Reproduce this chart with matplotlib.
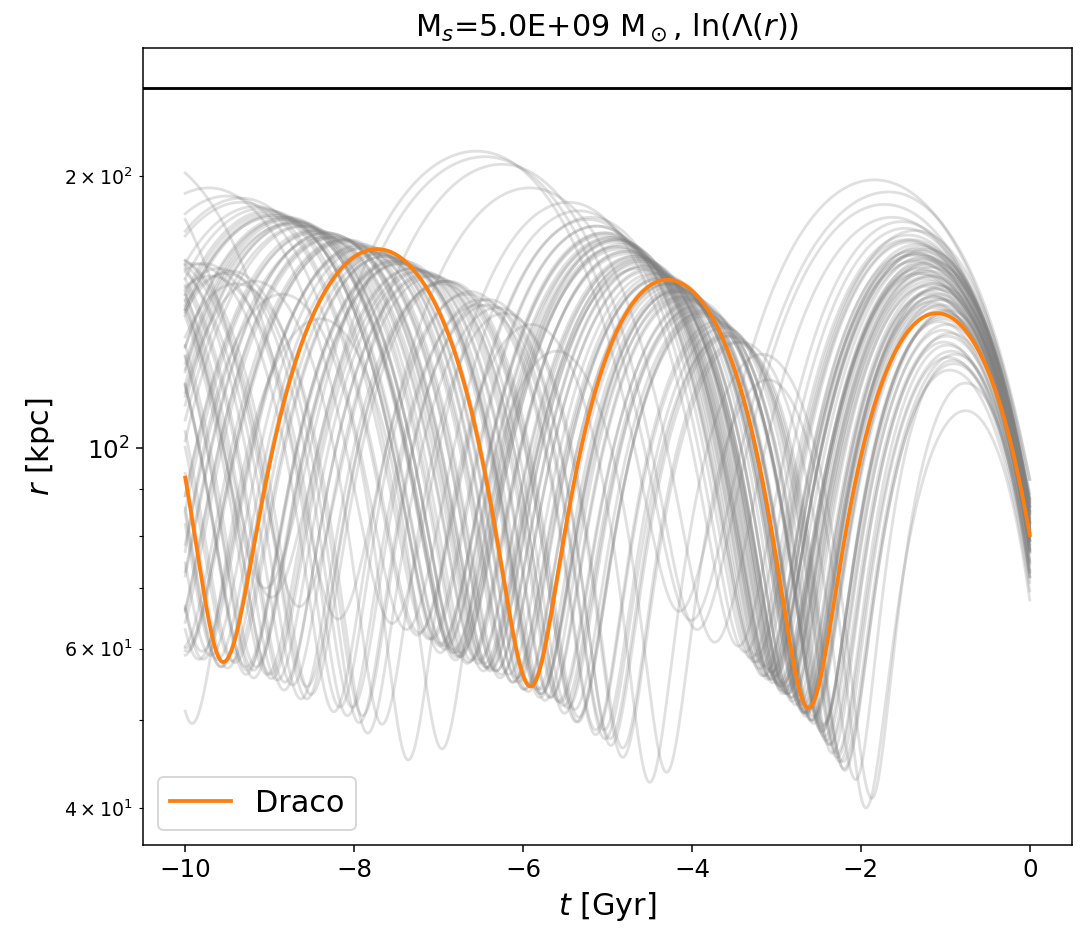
import numpy as np
import matplotlib
matplotlib.use("Agg")
import matplotlib.pyplot as plt

# ---------------- data ----------------
title_text = r'M$_s$=5.0E+09 M$_\odot$, ln($\Lambda(r)$)'
x_label = r'$t$ [Gyr]'
y_label = r'$r$ [kpc]'
legend_label = 'Draco'
r_line = 250.0          # horizontal reference radius [kpc]

# Draco orbit: turning points (time [Gyr], radius [kpc]); first/last lie just outside the plotted span
draco_t = [0.45, -1.10, -2.62, -4.29, -5.91, -7.73, -9.55, -11.30]
draco_r = [50.0, 141.0, 51.6, 153.5, 54.5, 166.0, 58.0, 179.0]

# Ensemble orbits: turning points (pericentre / apocentre)
gray_t = [
    [0.50, -1.84, -4.15, -6.55, -9.05, -11.65],
    [0.49, -1.67, -4.01, -6.45, -8.98, -11.61],
    [0.48, -1.72, -3.94, -6.25, -8.65, -11.15],
    [0.48, -1.63, -3.73, -5.92, -8.19, -10.55],
    [0.47, -1.52, -3.45, -5.46, -7.55, -9.72, -11.97],
    [0.47, -1.48, -3.37, -5.34, -7.38, -9.51, -11.72],
    [0.46, -1.44, -3.30, -5.23, -7.25, -9.34, -11.52],
    [0.46, -1.40, -3.23, -5.13, -7.11, -9.17, -11.31],
    [0.46, -1.36, -3.24, -5.20, -7.23, -9.34, -11.54],
    [0.46, -1.33, -3.14, -5.02, -6.98, -9.02, -11.13],
    [0.45, -1.30, -3.10, -4.97, -6.92, -8.94, -11.05],
    [0.45, -1.34, -3.09, -4.91, -6.80, -8.77, -10.82],
    [0.45, -1.27, -3.05, -4.90, -6.83, -8.83, -10.91],
    [0.45, -1.31, -3.05, -4.86, -6.74, -8.70, -10.74],
    [0.44, -1.25, -3.01, -4.84, -6.74, -8.72, -10.78],
    [0.44, -1.22, -2.92, -4.69, -6.53, -8.44, -10.43],
    [0.45, -1.36, -3.16, -5.03, -6.98, -9.00, -11.11],
    [0.44, -1.28, -2.94, -4.67, -6.46, -8.33, -10.27, -12.29],
    [0.44, -1.24, -2.97, -4.77, -6.64, -8.59, -10.61],
    [0.44, -1.30, -2.94, -4.65, -6.42, -8.27, -10.18, -12.18],
    [0.43, -1.19, -2.87, -4.62, -6.44, -8.33, -10.29, -12.34],
    [0.43, -1.26, -2.88, -4.56, -6.32, -8.14, -10.04, -12.01],
    [0.43, -1.21, -2.87, -4.60, -6.39, -8.26, -10.20, -12.22],
    [0.45, -1.38, -3.10, -4.89, -6.75, -8.68, -10.70],
    [0.44, -1.16, -2.88, -4.67, -6.53, -8.46, -10.48],
    [0.43, -1.20, -2.82, -4.50, -6.26, -8.08, -9.98, -11.95],
    [0.43, -1.14, -2.72, -4.36, -6.07, -7.85, -9.70, -11.62],
    [0.43, -1.22, -2.77, -4.38, -6.06, -7.80, -9.62, -11.50],
    [0.43, -1.12, -2.72, -4.38, -6.12, -7.92, -9.79, -11.73],
    [0.43, -1.18, -2.70, -4.28, -5.93, -7.64, -9.41, -11.26],
    [0.42, -1.08, -2.65, -4.28, -5.98, -7.75, -9.58, -11.50],
    [0.42, -1.15, -2.65, -4.21, -5.83, -7.52, -9.28, -11.10],
    [0.42, -1.10, -2.65, -4.26, -5.94, -7.68, -9.50, -11.38],
    [0.42, -1.17, -2.65, -4.19, -5.79, -7.46, -9.19, -10.99],
    [0.42, -1.05, -2.57, -4.15, -5.80, -7.51, -9.28, -11.13],
    [0.42, -1.12, -2.58, -4.10, -5.68, -7.32, -9.03, -10.81],
    [0.42, -1.06, -2.56, -4.12, -5.74, -7.43, -9.19, -11.01],
    [0.41, -1.00, -2.46, -3.98, -5.56, -7.20, -8.91, -10.69],
    [0.41, -1.04, -2.46, -3.94, -5.47, -7.07, -8.73, -10.46],
    [0.41, -0.98, -2.43, -3.94, -5.51, -7.14, -8.83, -10.60],
    [0.41, -1.03, -2.41, -3.85, -5.34, -6.89, -8.51, -10.18, -11.93],
    [0.41, -0.98, -2.38, -3.84, -5.35, -6.93, -8.56, -10.27, -12.04],
    [0.40, -1.02, -2.34, -3.71, -5.14, -6.63, -8.17, -9.78, -11.45],
    [0.40, -0.93, -2.28, -3.68, -5.14, -6.66, -8.24, -9.89, -11.59],
    [0.40, -0.97, -2.25, -3.58, -4.97, -6.41, -7.90, -9.46, -11.08],
    [0.40, -0.90, -2.20, -3.55, -4.96, -6.42, -7.94, -9.52, -11.17],
    [0.40, -0.95, -2.19, -3.48, -4.82, -6.22, -7.67, -9.18, -10.74],
    [0.39, -0.76, -1.94, -3.10, -4.30, -5.60, -6.96, -8.40, -9.92, -11.45],
    [0.40, -0.76, -1.87, -3.17, -4.50, -5.90, -7.36, -8.85, -10.40, -11.90],
    [0.41, -0.92, -2.06, -3.42, -4.82, -6.30, -7.84, -9.40, -11.00],
    [0.46, -1.42, -3.20, -5.05, -6.98, -8.98, -11.06],
    [0.45, -1.24, -3.06, -4.95, -6.92, -8.97, -11.10],
    [0.45, -1.36, -3.04, -4.79, -6.61, -8.50, -10.46],
    [0.45, -1.30, -3.06, -4.89, -6.79, -8.77, -10.83],
    [0.44, -1.20, -2.95, -4.77, -6.66, -8.63, -10.68],
    [0.44, -1.27, -2.91, -4.62, -6.39, -8.24, -10.15, -12.15],
    [0.43, -1.16, -2.86, -4.63, -6.47, -8.38, -10.37, -12.44],
    [0.43, -1.24, -2.82, -4.46, -6.17, -7.95, -9.80, -11.72],
    [0.43, -1.18, -2.81, -4.51, -6.27, -8.10, -10.01, -11.99],
    [0.43, -1.10, -2.64, -4.24, -5.91, -7.64, -9.44, -11.32],
    [0.42, -1.20, -2.67, -4.20, -5.79, -7.44, -9.16, -10.95],
    [0.42, -1.04, -2.56, -4.14, -5.79, -7.50, -9.27, -11.12],
    [0.42, -1.14, -2.59, -4.10, -5.67, -7.30, -8.99, -10.76],
    [0.41, -1.02, -2.46, -3.96, -5.52, -7.14, -8.82, -10.57],
    [0.41, -1.08, -2.46, -3.90, -5.39, -6.94, -8.56, -10.23, -11.98],
    [0.41, -0.94, -2.36, -3.84, -5.37, -6.97, -8.63, -10.36, -12.16],
    [0.40, -0.98, -2.28, -3.63, -5.04, -6.50, -8.02, -9.60, -11.25],
    [0.40, -0.88, -2.21, -3.59, -5.03, -6.53, -8.08, -9.70, -11.39],
    [0.46, -1.46, -3.26, -5.13, -7.08, -9.10, -11.21],
    [0.45, -1.40, -3.14, -4.95, -6.83, -8.79, -10.83],
    [0.44, -1.18, -2.98, -4.85, -6.80, -8.82, -10.93],
    [0.43, -1.32, -2.92, -4.58, -6.32, -8.12, -9.99, -11.93],
    [0.43, -1.06, -2.68, -4.36, -6.12, -7.94, -9.84, -11.81],
    [0.42, -1.12, -2.68, -4.30, -5.99, -7.75, -9.57, -11.47],
    [0.41, -0.96, -2.44, -3.98, -5.58, -7.25, -8.98, -10.78],
]
gray_r = [
    [63, 198, 66, 213, 70, 230],
    [61, 192, 64.5, 210, 68.4, 226],
    [60, 186, 63, 206, 66.8, 222],
    [58, 180, 61, 194, 64.7, 212],
    [57.4, 178, 60.4, 187, 64, 194, 67.9],
    [56.5, 175, 59.5, 183, 63, 190, 66.9],
    [55.7, 172, 58.6, 179, 62.1, 187, 65.9],
    [55, 170, 58, 176, 61.5, 185, 65.2],
    [56, 174, 59, 180, 62.5, 189, 66.3],
    [54.5, 168, 57.4, 173, 60.8, 183, 64.5],
    [54, 167, 57, 171, 60.4, 181, 64.1],
    [53, 166, 56, 169, 59.4, 179, 63],
    [53.7, 165, 56.5, 170, 59.9, 180, 63.5],
    [52.7, 164, 55.5, 167, 58.8, 177, 62.4],
    [53.2, 163, 56, 168, 59.4, 178, 62.9],
    [52.3, 162, 55, 163, 58.3, 174, 61.8],
    [53.2, 161, 56, 172, 59.4, 182, 62.9],
    [51.8, 160, 54.5, 163, 57.8, 173, 61.3, 192],
    [52, 159, 54.7, 165, 58, 176, 61.5],
    [51.3, 158, 54, 161, 57.2, 172, 60.7, 189],
    [51.3, 157, 54, 162, 57.2, 173, 60.7, 188],
    [50.8, 156, 53.5, 159, 56.7, 170, 60.1, 186],
    [50.8, 155, 53.5, 161, 56.7, 171, 60.1, 186],
    [52.7, 163.5, 55.5, 170, 58.8, 178, 62.4],
    [51.8, 158.5, 54.5, 162, 57.8, 173, 61.3],
    [50.4, 153, 53, 158, 56.2, 170, 59.6, 184],
    [49.9, 152, 52.5, 155, 55.7, 167, 59, 182],
    [49.4, 151, 52, 154, 55.1, 165, 58.4, 180],
    [49.4, 150, 52, 156, 55.1, 168, 58.4, 181],
    [48.9, 149, 51.5, 152, 54.6, 163, 57.9, 177],
    [48.5, 148, 51, 154, 54.1, 165, 57.3, 179],
    [48.5, 147, 51, 150, 54.1, 161, 57.3, 175],
    [48.3, 146, 50.8, 152, 53.8, 164, 57.1, 178],
    [48, 145, 50.5, 149, 53.5, 160, 56.8, 174],
    [47.5, 144, 50, 150, 53, 162, 56.2, 176],
    [47.5, 143, 50, 147, 53, 158, 56.2, 172],
    [47.1, 142, 49.6, 149, 52.6, 161, 55.7, 175],
    [46.8, 141, 49.3, 146, 52.3, 157, 55.4, 171],
    [46.3, 139, 48.7, 144, 51.6, 155, 54.7, 169],
    [45.6, 137, 48, 142, 50.9, 155, 54, 169],
    [45, 135, 47.5, 142, 50.4, 153, 53.4, 163, 56.6],
    [44.7, 133, 47, 141, 49.8, 153, 52.8, 163, 56],
    [43.7, 131, 46, 138, 48.8, 149, 51.7, 160, 54.8],
    [43.2, 128, 45.5, 137, 48.2, 148, 51.1, 160, 54.2],
    [42.8, 126, 45, 134, 47.7, 146, 50.6, 157, 53.6],
    [42, 124, 44.2, 133, 46.9, 144, 49.7, 156, 52.6],
    [41.8, 122, 44, 131, 46.6, 141, 49.5, 153, 52.4],
    [38, 110, 40, 119, 43.8, 128, 46.5, 139, 49.6, 150],
    [39, 118, 41, 127, 42.7, 137, 45.2, 148, 48, 160],
    [41, 125, 43, 131, 45.5, 143, 48.4, 152, 51],
    [54.2, 169, 57, 173, 60.4, 181, 64],
    [53.7, 166, 56.5, 170, 59.9, 180, 63.5],
    [52.3, 164, 55, 165, 58.3, 174, 61.8],
    [52.7, 162, 55.5, 167, 58.8, 177, 62.4],
    [51.8, 160, 54.5, 164, 57.8, 176, 61.3],
    [51.1, 157, 53.8, 160, 57, 171, 60.5, 185],
    [50.8, 155, 53.5, 158, 56.7, 171, 60.1, 187],
    [50.4, 154, 53, 156, 56.2, 167, 59.6, 181],
    [49.9, 152, 52.5, 157, 55.7, 169, 59, 183],
    [49.2, 150, 51.8, 151, 54.9, 163, 58.2, 177],
    [48.5, 148, 51, 149, 54.1, 160, 57.3, 174],
    [48, 146, 50.5, 147, 53.5, 161, 56.8, 175],
    [47.5, 144, 50, 146, 53, 158, 56.2, 172],
    [46.5, 140, 49, 143, 51.9, 156, 55.1, 170],
    [46, 138, 48.5, 141, 51.4, 153, 54.5, 164, 57.8],
    [44.7, 134, 47, 140, 49.8, 152, 52.8, 163, 56],
    [43.7, 130, 46, 136, 48.8, 146, 51.7, 158, 54.8],
    [42.8, 127, 45, 133, 47.7, 144, 50.6, 155, 53.6],
    [55, 170, 58, 176, 61.5, 184, 65.2],
    [53.2, 165, 56, 171, 59.4, 180, 62.9],
    [52.3, 161, 55, 166, 58.3, 179, 61.8],
    [50.8, 156, 53.5, 159, 56.7, 170, 60.1, 184],
    [49.4, 151, 52, 154, 55.1, 166, 58.4, 180],
    [48.5, 147, 51, 152, 54.1, 164, 57.3, 178],
    [47, 142, 49.5, 145, 52.5, 157, 55.6, 171],
]

t_start, t_end = -10.0, 0.0


# ---------------- helpers ----------------
def orbit_curve(tt, rr, k=0.7, n=200):
    """Draw a smooth radial orbit through the given turning points."""
    ts, rs = [], []
    for i in range(len(tt) - 1):
        t0, r0, t1, r1 = tt[i], rr[i], tt[i + 1], rr[i + 1]
        if r0 < r1:
            tp, rp, ta, ra = t0, r0, t1, r1
        else:
            tp, rp, ta, ra = t1, r1, t0, r0
        a = 0.5 * (ra + rp)
        e = (ra - rp) / (ra + rp)
        eta = np.linspace(0.0, np.pi, n)
        frac = (eta - k * e * np.sin(eta)) / np.pi
        ts.append(tp + (ta - tp) * frac)
        rs.append(a * (1.0 - e * np.cos(eta)))
    t = np.concatenate(ts)
    r = np.concatenate(rs)
    order = np.argsort(t)
    grid = np.linspace(t_start, t_end, 2000)
    return grid, np.interp(grid, t[order], r[order])


# ---------------- figure ----------------
DPI = 136
fig = plt.figure(figsize=(1088 / DPI, 939 / DPI), dpi=DPI)
ax = fig.add_axes([143 / 1088, 1 - 845 / 939, (1072 - 143) / 1088, (845 - 48) / 939])

for tt, rr in zip(gray_t, gray_r):
    x, y = orbit_curve(tt, rr)
    ax.plot(x, y, color='gray', alpha=0.24, lw=1.5, zorder=1)

x, y = orbit_curve(draco_t, draco_r)
ax.plot(x, y, color='#ff7f0e', lw=2.0, label=legend_label, zorder=3)

ax.axhline(r_line, color='black', lw=1.5, zorder=2)

ax.set_yscale('log')
ax.set_xlim(-10.5, 0.5)
ax.set_ylim(36.4, 277)

ax.set_title(title_text, fontsize=16)
ax.set_xlabel(x_label, fontsize=16)
ax.set_ylabel(y_label, fontsize=16)
ax.tick_params(axis='both', which='major', labelsize=13)

ax.legend(loc='lower left', fontsize=16)

fig.savefig('out.png', dpi=DPI)
